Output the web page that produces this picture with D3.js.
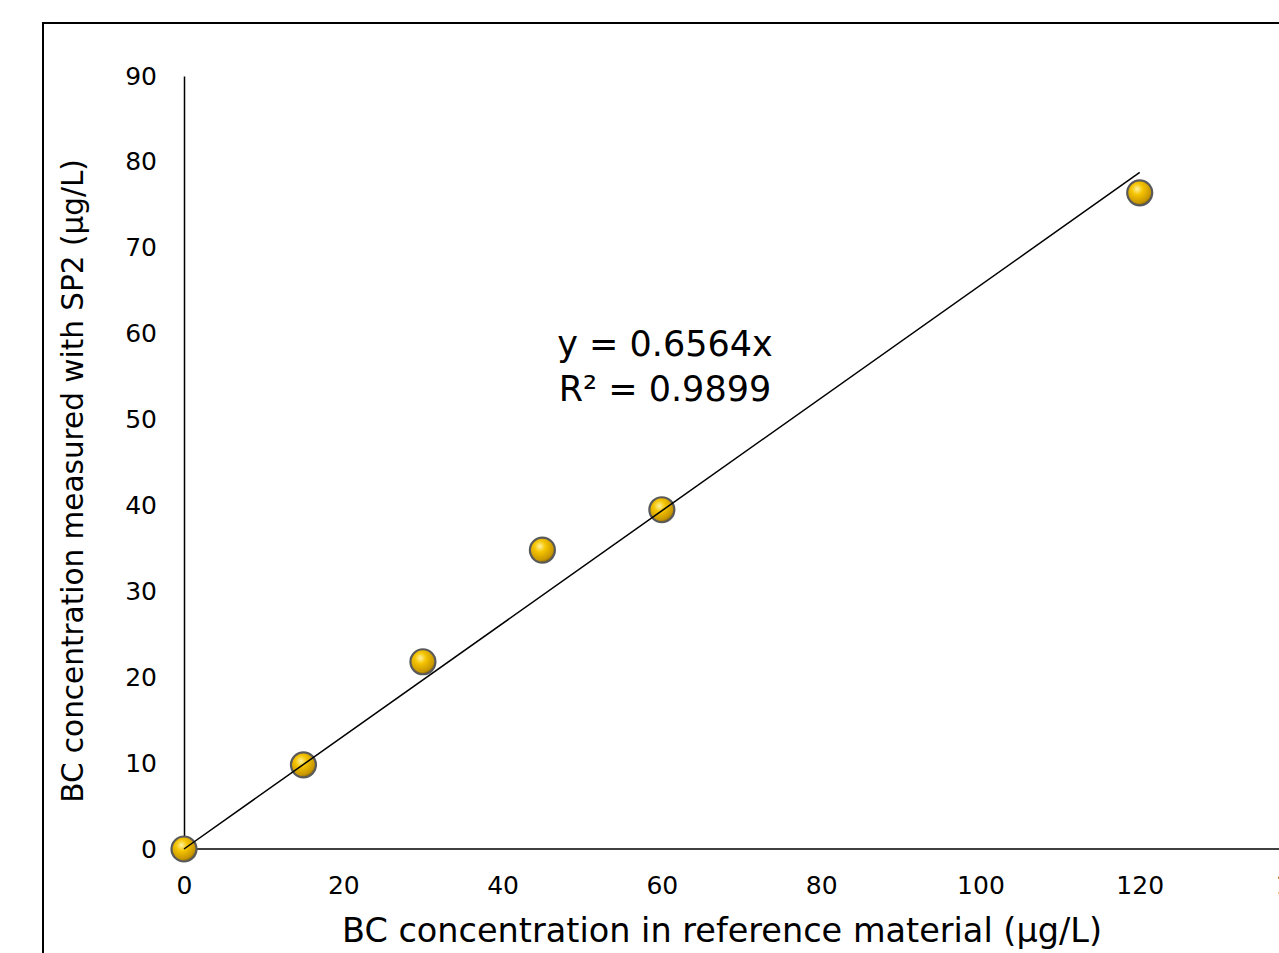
<!DOCTYPE html>
<html>
<head>
<meta charset="utf-8">
<script src="https://cdn.jsdelivr.net/npm/d3@7"></script>
<style>
  body { margin: 0; background: #fff; }
  text { font-family: "DejaVu Sans", sans-serif; fill: #000; }
</style>
</head>
<body>
<div id="chart"></div>
<script>
// data
var refConc = [0, 15, 30, 45, 60, 120];
var sp2Conc = [0, 9.8, 21.8, 34.8, 39.5, 76.4];
var xTicks = [0, 20, 40, 60, 80, 100, 120, 140];
var yTicks = [0, 10, 20, 30, 40, 50, 60, 70, 80, 90];
var slope = 0.6564;
var rSquared = 0.9899;

var svgWidth = 1279;
var svgHeight = 953;

var svg = d3.select("#chart")
  .append("svg")
  .attr("width", svgWidth)
  .attr("height", svgHeight);

// marker gradient
var defs = svg.append("defs");
var grad = defs.append("radialGradient")
  .attr("id", "ball")
  .attr("cx", "40%").attr("cy", "35%").attr("r", "65%");
grad.append("stop").attr("offset", "0%").attr("stop-color", "#fff2a0");
grad.append("stop").attr("offset", "35%").attr("stop-color", "#f5c400");
grad.append("stop").attr("offset", "85%").attr("stop-color", "#c89600");
grad.append("stop").attr("offset", "100%").attr("stop-color", "#8a6a00");

// outer frame (runs off the right and bottom edges)
svg.append("rect")
  .attr("x", 43)
  .attr("y", 23)
  .attr("width", 1400)
  .attr("height", 1000)
  .attr("fill", "none")
  .attr("stroke", "#000")
  .attr("stroke-width", 2);

var x = d3.scaleLinear().domain([0, 140]).range([184, 1299]);
var y = d3.scaleLinear().domain([0, 90]).range([849, 76]);

// axes
var xAxis = svg.append("g")
  .attr("transform", "translate(0," + y(0) + ")")
  .call(d3.axisBottom(x).tickValues(xTicks).tickSize(0).tickPadding(24));
var yAxis = svg.append("g")
  .attr("transform", "translate(" + x(0) + ",0)")
  .call(d3.axisLeft(y).tickValues(yTicks).tickSize(0).tickPadding(27));

[xAxis, yAxis].forEach(function(ax) {
  ax.select(".domain").attr("stroke", "#000").attr("stroke-width", 1.5);
  ax.selectAll("text")
    .attr("font-family", "DejaVu Sans")
    .attr("font-size", 25)
    .attr("fill", "#000");
});
xAxis.selectAll("text").attr("dy", "0.71em").attr("y", 27);

// extend the x axis line past the edge
xAxis.select(".domain").attr("d", "M" + x(0) + ",0H" + 1400);

// markers
svg.selectAll("circle.pt")
  .data(refConc)
  .enter()
  .append("circle")
  .attr("class", "pt")
  .attr("cx", d => x(d))
  .attr("cy", (d, i) => y(sp2Conc[i]))
  .attr("r", 12.5)
  .attr("fill", "url(#ball)")
  .attr("stroke", "#5a5a5a")
  .attr("stroke-width", 2.2);

// trend line through origin
var xMax = d3.max(refConc);
svg.append("line")
  .attr("x1", x(0))
  .attr("y1", y(0))
  .attr("x2", x(xMax))
  .attr("y2", y(slope * xMax))
  .attr("stroke", "#000")
  .attr("stroke-width", 1.5);

// equation label
svg.append("text")
  .attr("x", 665)
  .attr("y", 356)
  .attr("text-anchor", "middle")
  .attr("font-size", 35)
  .text("y = " + slope + "x");
svg.append("text")
  .attr("x", 665)
  .attr("y", 401)
  .attr("text-anchor", "middle")
  .attr("font-size", 35)
  .text("R² = " + rSquared);

// axis titles
svg.append("text")
  .attr("x", 722)
  .attr("y", 942)
  .attr("text-anchor", "middle")
  .attr("font-size", 33.5)
  .text("BC concentration in reference material (µg/L)");

svg.append("text")
  .attr("transform", "translate(83,481) rotate(-90)")
  .attr("text-anchor", "middle")
  .attr("font-size", 29.5)
  .text("BC concentration measured with SP2 (µg/L)");
</script>
</body>
</html>
